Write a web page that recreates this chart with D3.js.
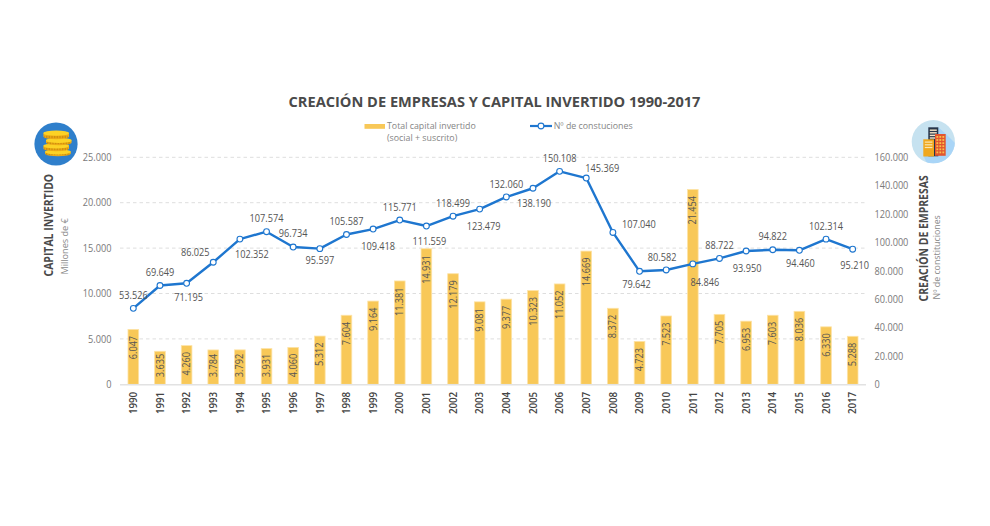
<!DOCTYPE html>
<html lang="es">
<head>
<meta charset="utf-8">
<title>Creación de empresas y capital invertido 1990-2017</title>
<script src="https://cdn.jsdelivr.net/npm/d3@7"></script>
<style>
  html, body { margin: 0; padding: 0; background: #fff; }
  svg { display: block; }
  text { font-family: "Open Sans", "Noto Sans", sans-serif; }
</style>
</head>
<body>
<svg id="chart" width="990" height="526"></svg>
<script>
// Series, one value per year
const years = [1990,1991,1992,1993,1994,1995,1996,1997,1998,1999,2000,2001,2002,2003,
               2004,2005,2006,2007,2008,2009,2010,2011,2012,2013,2014,2015,2016,2017];
const capital = [6047,3635,4260,3784,3792,3931,4060,5312,7604,9164,11381,14931,12179,9081,
                 9377,10323,11052,14669,8372,4723,7523,21454,7705,6953,7603,8036,6330,5288];
const companies = [53526,69649,71195,86025,102352,107574,96734,95597,105587,109418,115771,111559,
                   118499,123479,132060,138190,150108,145369,107040,79642,80582,84846,88722,
                   93950,94822,94460,102314,95210];

// Axis ticks
const capitalTicks = [0,5000,10000,15000,20000,25000];
const companyTicks = [0,20000,40000,60000,80000,100000,120000,140000,160000];

// Where each line label sits relative to its point, so labels avoid the line
const lineLabelDx = [0,0,2,-18,12,0,0,0,0,5,0,3,0,4,0,1,0,16,26,-3,-4,12,0,1,0,1,0,2];
const lineLabelDy = [-13,-13,14,-10,15,-13,-14,12,-13,17,-13,15,-13,17,-13,15,-13,-10,-8,13,-13,18,-13,17,-13,13,-13,16];

const fmt = d3.format(",d");
const esNumber = v => fmt(v).replace(/,/g, ".");

// Narrows the glyphs of a text selection for a tall, tight humanist look
function condense(selection, factor) {
  selection.each(function () {
    const len = this.getComputedTextLength();
    d3.select(this).attr("textLength", (len * factor).toFixed(2)).attr("lengthAdjust", "spacingAndGlyphs");
  });
  return selection;
}

const svg = d3.select("#chart");
const plotTop = 157.3, plotBottom = 384.3, plotLeft = 120, plotRight = 866;
const numberSize = 10.2, numberSqueeze = 0.9;

const x = d3.scaleBand().domain(years).range([plotLeft, plotRight]).paddingInner(0.6).paddingOuter(0.3);
const cx = y => x(y) + x.bandwidth() / 2;
const yCapital = d3.scaleLinear().domain([0, 25000]).range([plotBottom, plotTop]);
const yCompanies = d3.scaleLinear().domain([0, 160000]).range([plotBottom, plotTop]);

// Title
svg.append("text").attr("x", 494.5).attr("y", 106.5).attr("text-anchor", "middle")
  .attr("font-size", 14.6).attr("font-weight", 700).attr("fill", "#4a4a4a")
  .text("CREACIÓN DE EMPRESAS Y CAPITAL INVERTIDO 1990-2017");

// Dashed horizontal grid
svg.append("g").selectAll("line").data(capitalTicks.slice(1)).join("line")
  .attr("x1", plotLeft).attr("x2", plotRight)
  .attr("y1", d => yCapital(d)).attr("y2", d => yCapital(d))
  .attr("stroke", "#dedede").attr("stroke-width", 1).attr("stroke-dasharray", "3.5 3");

// Bars
svg.append("g").selectAll("rect").data(years).join("rect")
  .attr("x", d => x(d)).attr("width", x.bandwidth())
  .attr("y", (d, i) => yCapital(capital[i]))
  .attr("height", (d, i) => plotBottom - yCapital(capital[i]))
  .attr("fill", "#f8c858").attr("stroke", "#fde3a6").attr("stroke-width", 0.8);

// Baseline
svg.append("line").attr("x1", plotLeft).attr("x2", plotRight)
  .attr("y1", plotBottom + 0.4).attr("y2", plotBottom + 0.4)
  .attr("stroke", "#e2e2e2").attr("stroke-width", 1.4);

// Value labels inside the bars, kept clear of the baseline on short bars
svg.append("g").selectAll("text").data(years).join("text")
  .attr("transform", (d, i) => {
    const top = Math.min(yCapital(capital[i]) + 6.5, plotBottom - 30.5);
    return `translate(${cx(d) + 3.6},${top}) rotate(-90)`;
  })
  .attr("text-anchor", "end").attr("font-size", numberSize).attr("fill", "#555")
  .text((d, i) => esNumber(capital[i]))
  .call(condense, numberSqueeze);

// Company line
const line = d3.line().x((d, i) => cx(years[i])).y(d => yCompanies(d));
svg.append("path").datum(companies).attr("d", line)
  .attr("fill", "none").attr("stroke", "#1e76cf").attr("stroke-width", 2.4).attr("stroke-linejoin", "round");

svg.append("g").selectAll("circle").data(companies).join("circle")
  .attr("cx", (d, i) => cx(years[i])).attr("cy", d => yCompanies(d)).attr("r", 2.9)
  .attr("fill", "#fff").attr("stroke", "#1e76cf").attr("stroke-width", 1.1);

svg.append("g").selectAll("text").data(companies).join("text")
  .attr("x", (d, i) => cx(years[i]) + lineLabelDx[i])
  .attr("y", (d, i) => yCompanies(d) + lineLabelDy[i] + 3.6)
  .attr("text-anchor", "middle").attr("font-size", numberSize).attr("fill", "#555")
  .text(d => esNumber(d))
  .call(condense, numberSqueeze);

// Axes
const leftAxis = svg.append("g").attr("transform", "translate(111.5,0)")
  .call(d3.axisLeft(yCapital).tickValues(capitalTicks).tickSize(0).tickPadding(0).tickFormat(esNumber));
const rightAxis = svg.append("g").attr("transform", "translate(874.5,0)")
  .call(d3.axisRight(yCompanies).tickValues(companyTicks).tickSize(0).tickPadding(0).tickFormat(esNumber));
[leftAxis, rightAxis].forEach(a => {
  a.select(".domain").remove();
  a.selectAll("text").attr("font-size", numberSize).attr("fill", "#7a7a7a")
    .style("font-family", '"Open Sans", sans-serif')
    .call(condense, numberSqueeze);
});

// Year labels
const xAxis = svg.append("g").attr("transform", `translate(0,${plotBottom + 7.5})`)
  .call(d3.axisBottom(x).tickSize(0).tickPadding(0));
xAxis.select(".domain").remove();
xAxis.selectAll("text")
  .attr("transform", "rotate(-90)").attr("text-anchor", "end")
  .attr("x", 0).attr("y", 0).attr("dx", 0).attr("dy", "0.35em")
  .attr("font-size", 10.6).attr("font-weight", 600).attr("fill", "#444")
  .style("font-family", '"Open Sans", sans-serif')
  .call(condense, 0.92);

// Axis titles
function sideTitle(px, py, label, size, weight, fill, squeeze) {
  svg.append("text").attr("transform", `translate(${px},${py}) rotate(-90)`)
    .attr("font-size", size).attr("font-weight", weight).attr("fill", fill).text(label)
    .call(condense, squeeze);
}
sideTitle(52.5, 276.5, "CAPITAL INVERTIDO", 11.6, 700, "#4a4a4a", 0.9);
sideTitle(68, 274.5, "Millones de €", 9.6, 400, "#8a8a8a", 0.95);
sideTitle(927.5, 301.5, "CREACIÓN DE EMPRESAS", 11.6, 700, "#4a4a4a", 0.9);
sideTitle(940, 299.5, "Nº de constituciones", 9.6, 400, "#8a8a8a", 0.92);

// Legend
const legend = svg.append("g");
legend.append("rect").attr("x", 364.5).attr("y", 124).attr("width", 20.5).attr("height", 4.8).attr("fill", "#f8c858");
legend.append("text").attr("x", 387).attr("y", 128.5).attr("font-size", 9.6).attr("fill", "#858585").text("Total capital invertido").call(condense, 0.92);
legend.append("text").attr("x", 387).attr("y", 140.5).attr("font-size", 9.6).attr("fill", "#858585").text("(social + suscrito)").call(condense, 0.92);
legend.append("line").attr("x1", 530).attr("x2", 552).attr("y1", 126).attr("y2", 126).attr("stroke", "#1e76cf").attr("stroke-width", 2.2);
legend.append("circle").attr("cx", 541).attr("cy", 126).attr("r", 2.9).attr("fill", "#fff").attr("stroke", "#1e76cf").attr("stroke-width", 1.1);
legend.append("text").attr("x", 553.7).attr("y", 128.5).attr("font-size", 9.6).attr("fill", "#858585").text("Nº de constuciones").call(condense, 0.92);

// Coin-stack badge
const coinBadge = svg.append("g");
coinBadge.append("circle").attr("cx", 56).attr("cy", 144).attr("r", 21.6).attr("fill", "#2f7fcb");
function coin(g, x0, yTop, w, h) {
  const rx = w / 2, ry = 2.6;
  g.append("path")
    .attr("d", `M${x0},${yTop + ry}V${yTop + h - ry}A${rx},${ry} 0 0 0 ${x0 + w},${yTop + h - ry}V${yTop + ry}Z`)
    .attr("fill", "#f0ad17");
  g.append("line").attr("x1", x0 + 1).attr("x2", x0 + w - 1)
    .attr("y1", yTop + h - 2.2).attr("y2", yTop + h - 2.2)
    .attr("stroke", "#c98a0c").attr("stroke-width", 2.4).attr("stroke-dasharray", "0.8 0.8");
  g.append("ellipse").attr("cx", x0 + rx).attr("cy", yTop + ry).attr("rx", rx).attr("ry", ry).attr("fill", "#fcd225");
}
[[45, 149.2, 25.8, 7], [43.4, 143.2, 25.6, 8], [46, 137.8, 25.6, 7.4], [43.4, 130.6, 25.6, 8.6]]
  .forEach(c => coin(coinBadge, c[0], c[1], c[2], c[3]));

// Office-buildings badge
const defs = svg.append("defs");
defs.append("clipPath").attr("id", "badgeClip").append("circle")
  .attr("cx", 933.3).attr("cy", 141.7).attr("r", 21.6);
const cityBadge = svg.append("g").attr("clip-path", "url(#badgeClip)");
cityBadge.append("rect").attr("x", 911).attr("y", 120).attr("width", 45).attr("height", 44).attr("fill", "#c6e2f0");
cityBadge.append("polygon").attr("points", "938,127 946,134 960,148 960,170 930,170 924,157").attr("fill", "#a9d5f7");
cityBadge.append("rect").attr("x", 928.3).attr("y", 127.3).attr("width", 10).attr("height", 29).attr("fill", "#27364a");
d3.range(4).forEach(i => cityBadge.append("rect")
  .attr("x", 929.8).attr("y", 129.5 + i * 2.6).attr("width", 7).attr("height", 1.4).attr("fill", "#f5e6c8"));
cityBadge.append("rect").attr("x", 935).attr("y", 134).attr("width", 10.7).attr("height", 21.8).attr("fill", "#e2552e");
d3.range(6).forEach(r => d3.range(3).forEach(c => cityBadge.append("rect")
  .attr("x", 936.4 + c * 3).attr("y", 136 + r * 3.1).attr("width", 1.8).attr("height", 1.8).attr("fill", "#f9c14a")));
cityBadge.append("rect").attr("x", 923.3).attr("y", 139.3).attr("width", 10.7).attr("height", 17.2).attr("fill", "#f0a81e");
d3.range(3).forEach(i => cityBadge.append("rect")
  .attr("x", 924.8).attr("y", 141.5 + i * 2.7).attr("width", 7.6).attr("height", 1.2).attr("fill", "#fbe6b0"));
</script>
</body>
</html>
